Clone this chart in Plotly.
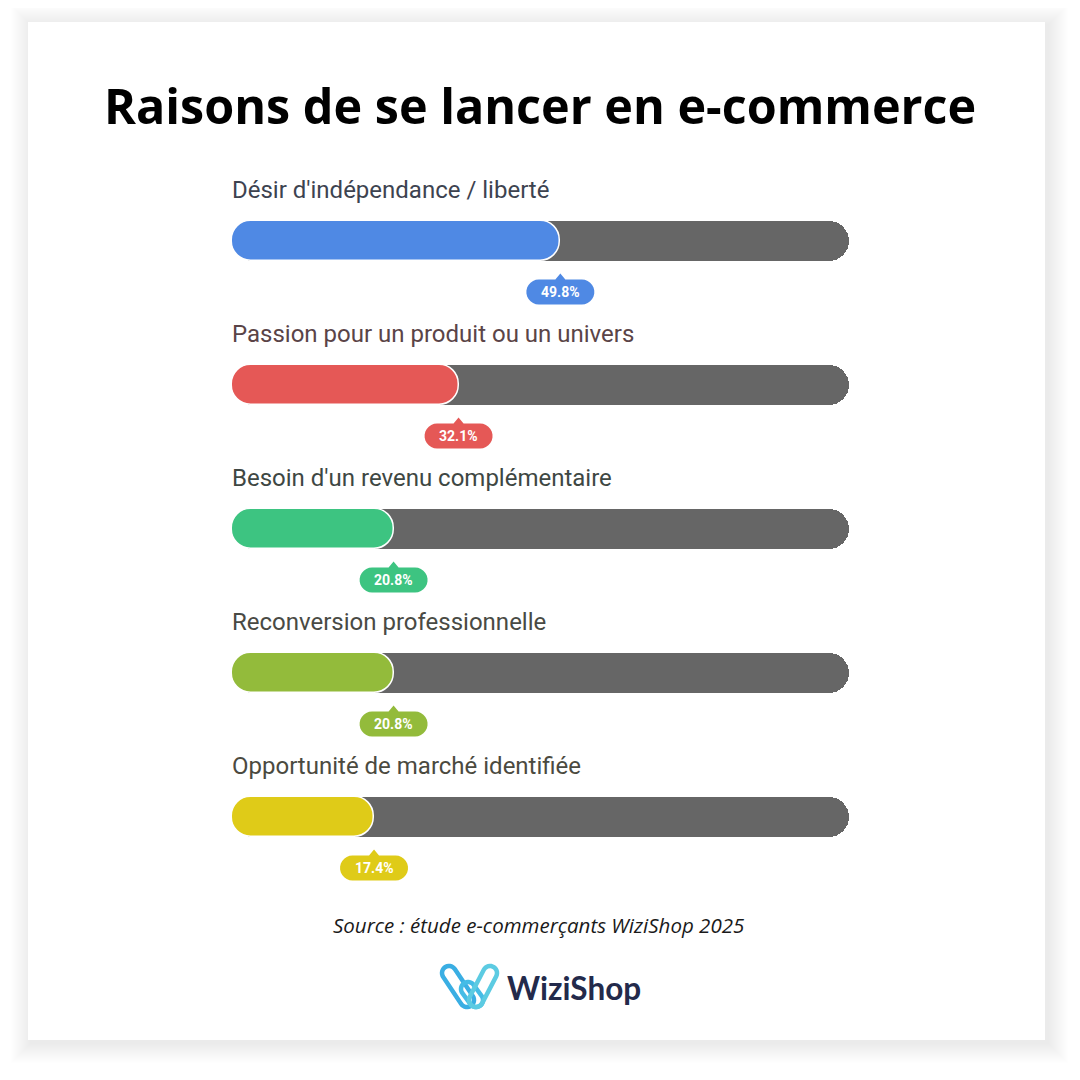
import plotly.graph_objects as go
import numpy as np

# ---------------- data ----------------
categories = [
    "Désir d'indépendance / liberté",
    "Passion pour un produit ou un univers",
    "Besoin d'un revenu complémentaire",
    "Reconversion professionnelle",
    "Opportunité de marché identifiée",
]
values = [49.8, 32.1, 20.8, 20.8, 17.4]
value_labels = ["49.8%", "32.1%", "20.8%", "20.8%", "17.4%"]
bar_colors = ["#4f89e4", "#e55856", "#3dc481", "#93bb3b", "#dfcb18"]
label_colors = ["#3d4350", "#5a4447", "#3e4743", "#494a44", "#4b4a3f"]
track_max = 100
track_min = -7.3   # room for the rounded left end of the bars
title_text = "Raisons de se lancer en e-commerce"
source_text = "Source : étude e-commerçants WiziShop 2025"
brand_text = "WiziShop"

# page body has an 8px margin: figure is placed at (8, 8)
OFF = 8
FW = FH = 1064
rows = list(range(len(categories)))
ROW_PX = 144
BAR_PX = 40


def px(x):
    return (x - OFF) / FW


def py(y):
    return 1 - (y - OFF) / FH


fig = go.Figure()

# track
fig.add_trace(go.Bar(
    x=[track_max - track_min] * len(rows), y=rows, base=track_min, orientation="h",
    width=BAR_PX / ROW_PX,
    marker=dict(color="#666666", cornerradius=BAR_PX / 2, line=dict(width=0)),
    hoverinfo="skip", showlegend=False,
))
# values
fig.add_trace(go.Bar(
    x=[v - track_min for v in values], y=rows, base=track_min, orientation="h",
    width=BAR_PX / ROW_PX,
    marker=dict(color=bar_colors, cornerradius=BAR_PX / 2,
                line=dict(color="white", width=1.5)),
    hoverinfo="skip", showlegend=False,
))

shapes = []

# card shadow + card (paper coordinates)
cx0, cy0, cx1, cy1 = 28, 22, 1045, 1040
for k in range(20, 0, -1):
    shapes.append(dict(
        type="rect", xref="paper", yref="paper", layer="below",
        x0=px(cx0 - k + 3), x1=px(cx1 + k + 3),
        y0=py(cy1 + k + 3), y1=py(cy0 - k + 3),
        fillcolor="rgba(0,0,0,0.0045)", line=dict(width=0),
    ))
shapes.append(dict(
    type="rect", xref="paper", yref="paper", layer="below",
    x0=px(cx0), x1=px(cx1), y0=py(cy1), y1=py(cy0),
    fillcolor="#ffffff", line=dict(width=0),
))


def pill_path(cy, hw, hh, tip_h, tip_w):
    """Capsule centred at (0, cy) (pixels, y up) with a small pointer on top."""
    pts = []
    for a in np.linspace(np.pi / 2, -np.pi / 2, 14):
        pts.append((hw - hh + hh * np.cos(a), cy + hh * np.sin(a)))
    for a in np.linspace(-np.pi / 2, -3 * np.pi / 2, 14):
        pts.append((-(hw - hh) + hh * np.cos(a), cy + hh * np.sin(a)))
    pts.append((-tip_w, cy + hh))
    pts.append((0, cy + hh + tip_h))
    pts.append((tip_w, cy + hh))
    return "M " + " L ".join(f"{x:.2f},{y:.2f}" for x, y in pts) + " Z"


badge_path = pill_path(-51, 34, 12.5, 6, 5)
for r, v, c in zip(rows, values, bar_colors):
    shapes.append(dict(
        type="path", xref="x", yref="y", xsizemode="pixel", ysizemode="pixel",
        xanchor=v, yanchor=r, path=badge_path,
        fillcolor=c, line=dict(width=0), layer="above",
    ))


# logo icon (capsule outlines)
def capsule(p1, p2, rad, n=16):
    (x1, y1), (x2, y2) = p1, p2
    ang = np.arctan2(y2 - y1, x2 - x1)
    pts = []
    for a in np.linspace(ang + np.pi / 2, ang + 3 * np.pi / 2, n):
        pts.append((x1 + rad * np.cos(a), y1 + rad * np.sin(a)))
    for a in np.linspace(ang - np.pi / 2, ang + np.pi / 2, n):
        pts.append((x2 + rad * np.cos(a), y2 + rad * np.sin(a)))
    return "M " + " L ".join(f"{px(x):.5f},{py(y):.5f}" for x, y in pts) + " Z"


for p1, p2, col in [((449, 973), (467, 1000), "#3aaee3"),
                    ((468, 989), (476, 1000), "#45bce6"),
                    ((476, 1000), (490, 973), "#5ccbe2")]:
    shapes.append(dict(
        type="path", xref="paper", yref="paper", path=capsule(p1, p2, 7),
        fillcolor="rgba(0,0,0,0)", line=dict(color=col, width=4.5), layer="above",
    ))

annotations = []
# category labels
for r, cat, lc in zip(rows, categories, label_colors):
    annotations.append(dict(
        x=track_min, y=r, xref="x", yref="y", text=cat, showarrow=False,
        xanchor="left", yanchor="middle", xshift=-2, yshift=51,
        font=dict(family="Roboto", size=24, color=lc),
    ))
# value badges text
for r, v, t in zip(rows, values, value_labels):
    annotations.append(dict(
        x=v, y=r, xref="x", yref="y", text=f"<b>{t}</b>", showarrow=False,
        xanchor="center", yanchor="middle", yshift=-51,
        font=dict(family="Roboto", size=14, color="#ffffff"),
    ))
# title
annotations.append(dict(
    x=px(540), y=py(105), xref="paper", yref="paper", text=f"<b>{title_text}</b>",
    showarrow=False, xanchor="center", yanchor="middle",
    font=dict(family="Open Sans", size=48.5, color="#000000"),
))
# source
annotations.append(dict(
    x=px(538), y=py(925), xref="paper", yref="paper", text=f"<i>{source_text}</i>",
    showarrow=False, xanchor="center", yanchor="middle",
    font=dict(family="Open Sans", size=20.5, color="#1a1a1a"),
))
# brand
annotations.append(dict(
    x=px(505), y=py(988), xref="paper", yref="paper", text=f"<b>{brand_text}</b>",
    showarrow=False, xanchor="left", yanchor="middle",
    font=dict(family="Lato", size=31.5, color="#232a4b"),
))

fig.update_layout(
    width=FW, height=FH,
    margin=dict(l=0, r=0, t=0, b=0),
    paper_bgcolor="#ffffff", plot_bgcolor="rgba(0,0,0,0)",
    barmode="overlay", bargap=0,
    showlegend=False,
    xaxis=dict(domain=[px(232), px(849)], range=[track_min, track_max],
               visible=False, fixedrange=True),
    yaxis=dict(domain=[py(889), py(169)], range=[len(rows) - 0.5, -0.5],
               visible=False, fixedrange=True),
    shapes=shapes,
    annotations=annotations,
)

fig.write_html("out.html", config={"displayModeBar": False})
